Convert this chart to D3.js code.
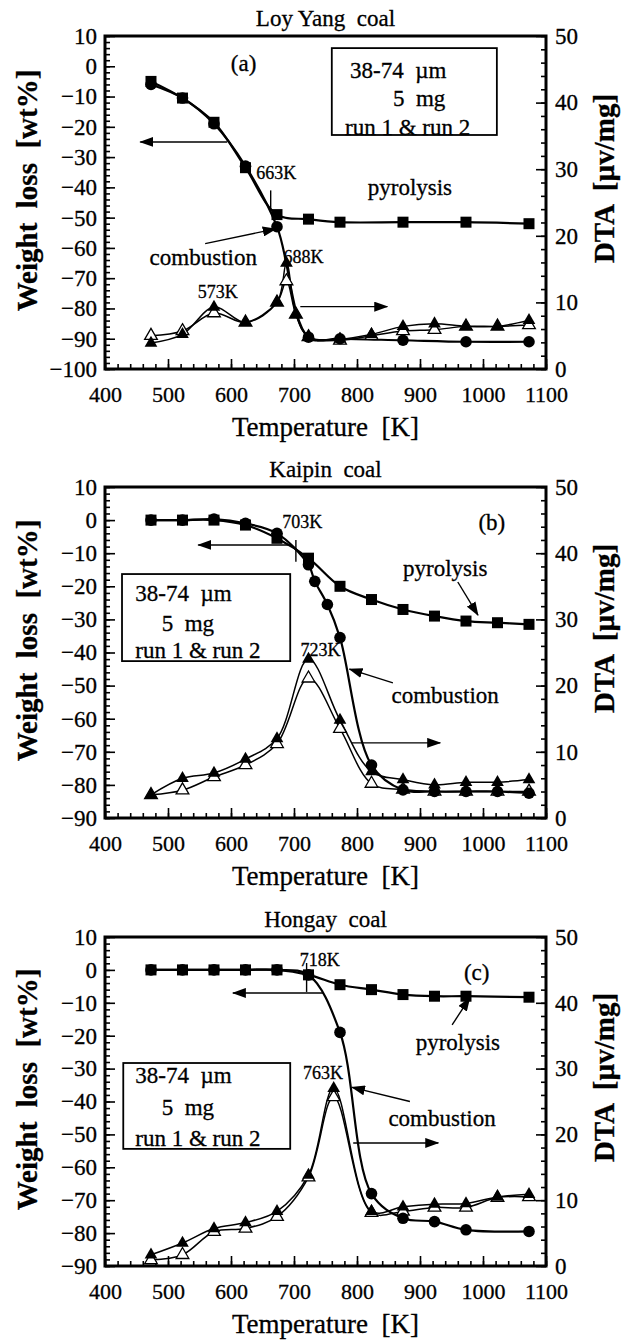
<!DOCTYPE html>
<html>
<head>
<meta charset="utf-8">
<script src="https://cdn.jsdelivr.net/npm/d3@7"></script>
<style>
  body { margin: 0; background: #fff; }
  text { font-family: "Liberation Serif", "Times New Roman", serif; fill: #000; white-space: pre; stroke: #000; stroke-width: 0.3px; }
</style>
</head>
<body>
<div id="chart"></div>
<script>
// ---- data ----
const panelTitles = ["Loy Yang  coal", "Kaipin  coal", "Hongay  coal"];
const wlDomains = [[-100, 10], [-90, 10], [-90, 10]];
const dtaDomain = [0, 50];
const xTickVals = [400, 500, 600, 700, 800, 900, 1000, 1100];

// (a) Loy Yang
const aPyroT = [473, 523, 573, 623, 673, 723, 773, 873, 973, 1073];
const aPyroW = [-5, -10.5, -18.5, -33.5, -49, -50.5, -51.5, -51.5, -51.5, -52];
const aCombT = [473, 523, 573, 623, 673, 723, 773, 873, 973, 1073];
const aCombW = [-6, -10.5, -19, -33, -53, -89.5, -90, -90.5, -91, -91];
const aDtaT = [473, 523, 573, 623, 673, 688, 703, 723, 773, 823, 873, 923, 973, 1023, 1073];
const aDta1 = [3.9, 5.2, 9.3, 7.0, 10.0, 15.9, 8.2, 4.8, 4.5, 5.2, 6.4, 6.8, 6.4, 6.4, 7.3];
const aDta2 = [5.0, 5.7, 8.4, 7.0, 10.0, 13.2, 8.2, 4.8, 4.3, 5.0, 5.7, 5.9, 6.4, 6.4, 6.6];

// (b) Kaipin
const bPyroT = [473, 523, 573, 623, 673, 723, 773, 823, 873, 923, 973, 1023, 1073];
const bPyroW = [0, 0, 0, -1.5, -5.5, -11.5, -20, -24, -27, -29, -30.5, -31, -31.5];
const bCombT = [473, 523, 573, 623, 673, 723, 733, 753, 773, 823, 873, 923, 973, 1023, 1073];
const bCombW = [0, 0, 0.3, -1, -4, -13.5, -18.5, -25.5, -35.5, -74, -81.5, -82, -82, -82, -82.5];
const bDtaT = [473, 523, 573, 623, 673, 723, 773, 823, 873, 923, 973, 1023, 1073];
const bDta1 = [3.5, 6.0, 6.8, 8.9, 12.0, 24.0, 14.8, 7.0, 5.8, 5.0, 5.4, 5.4, 5.8];
const bDta2 = [3.5, 4.2, 6.2, 8.0, 11.2, 21.1, 13.5, 5.2, 4.3, 4.0, 4.0, 4.0, 4.0];

// (c) Hongay
const cPyroT = [473, 523, 573, 623, 673, 723, 773, 823, 873, 923, 973, 1073];
const cPyroW = [0, 0, 0, 0, 0, -1.5, -4.5, -6, -7.5, -8, -8, -8.3];
const cCombT = [473, 523, 573, 623, 673, 723, 773, 823, 873, 923, 973, 1073];
const cCombW = [0, 0, 0, 0, 0, -1.5, -19, -68, -75.5, -76.5, -79, -79.5];
const cDtaT = [473, 523, 573, 623, 673, 723, 763, 823, 873, 923, 973, 1023, 1073];
const cDta1 = [1.7, 3.5, 5.7, 6.6, 8.3, 13.8, 27.0, 8.3, 9.0, 9.4, 9.5, 10.5, 10.9];
const cDta2 = [0.9, 1.7, 5.2, 5.7, 7.5, 13.5, 25.7, 8.1, 8.3, 8.9, 8.9, 10.4, 10.5];

const series = [
  { pyro: [aPyroT, aPyroW], comb: [aCombT, aCombW], dta: [aDtaT, aDta1, aDta2] },
  { pyro: [bPyroT, bPyroW], comb: [bCombT, bCombW], dta: [bDtaT, bDta1, bDta2] },
  { pyro: [cPyroT, cPyroW], comb: [cCombT, cCombW], dta: [cDtaT, cDta1, cDta2] }
];

// annotations in data coords (temperature, weight loss)
const notes = [
  [
    { t: "(a)", T: 620, v: 1, s: 23, a: "middle" },
    { t: "663K", T: 640, v: -35, s: 18, a: "start" },
    { t: "pyrolysis", T: 884, v: -40, s: 23, a: "middle" },
    { t: "combustion", T: 556, v: -63, s: 23, a: "middle" },
    { t: "688K", T: 715, v: -63, s: 18, a: "middle" },
    { t: "573K", T: 579, v: -74.5, s: 18, a: "middle" }
  ],
  [
    { t: "(b)", T: 1014, v: -0.6, s: 23, a: "middle" },
    { t: "703K", T: 713, v: -0.6, s: 18, a: "middle" },
    { t: "pyrolysis", T: 940, v: -14.5, s: 23, a: "middle" },
    { t: "723K", T: 742, v: -39.2, s: 18, a: "middle" },
    { t: "combustion", T: 940, v: -52.8, s: 23, a: "middle" }
  ],
  [
    { t: "718K", T: 741, v: 3, s: 18, a: "middle" },
    { t: "(c)", T: 990, v: -0.6, s: 23, a: "middle" },
    { t: "pyrolysis", T: 960, v: -21.9, s: 23, a: "middle" },
    { t: "763K", T: 746, v: -31.3, s: 18, a: "middle" },
    { t: "combustion", T: 935, v: -45, s: 23, a: "middle" }
  ]
];
// arrows: [T1, v1, T2, v2], head at the second point
const arrows = [
  [[594, -25, 456, -25], [710, -79.4, 848, -79.4], [559, -58.6, 671, -53.7]],
  [[694, -7.5, 548, -7.5], [792, -67.3, 932, -67.3], [960, -18.7, 992, -28.7], [857, -49.2, 788, -45]],
  [[746, -7, 603, -7], [794, -52.6, 929, -52.6], [951, -16.7, 979, -8.5], [884, -40, 792, -35.7]]
];
// short vertical marks at ignition temperatures
const igMarks = [[663, -41, -48], [703, -6, -12.6], [720, 2.1, -6.7]];
// sample info boxes [T1, v1, T2, v2]
const boxes = [[760, 6, 1022, -22.7], [427, -16.3, 694, -42.6], [429, -28.3, 694, -54.4]];
const boxText = [
  [[789, -1.2, "38-74  µm"], [857, -10.5, "5  mg"], [781, -20, "run 1 & run 2"]],
  [[448, -22, "38-74  µm"], [490, -31, "5  mg"], [448, -39.2, "run 1 & run 2"]],
  [[448, -32, "38-74  µm"], [490, -41.6, "5  mg"], [448, -51, "run 1 & run 2"]]
];

// ---- layout ----
const W = 625, H = 1341;
const L = 105, R = 546;
const panels = [{ top: 36, bottom: 369 }, { top: 487, bottom: 818 }, { top: 937, bottom: 1266 }];

const svg = d3.select("#chart").append("svg")
  .attr("width", W).attr("height", H);

svg.append("defs").append("marker")
  .attr("id", "head")
  .attr("markerUnits", "userSpaceOnUse")
  .attr("viewBox", "0 0 14 10")
  .attr("refX", 13).attr("refY", 5)
  .attr("markerWidth", 14).attr("markerHeight", 10)
  .attr("orient", "auto")
  .append("path").attr("d", "M0,0 L14,5 L0,10 Z").attr("fill", "#000");

panels.forEach((p, i) => drawPanel(i, p));

function drawPanel(i, p) {
  const g = svg.append("g");
  const x = d3.scaleLinear().domain([400, 1100]).range([L, R]);
  const y = d3.scaleLinear().domain(wlDomains[i]).range([p.bottom, p.top]);
  const y2 = d3.scaleLinear().domain(dtaDomain).range([p.bottom, p.top]);
  const [lo, hi] = wlDomains[i];

  // minor ticks
  g.append("g").attr("transform", `translate(${L},0)`)
    .call(d3.axisLeft(y).tickValues(d3.range(lo, hi + 0.1, 2)).tickSize(-5).tickFormat(""));
  g.append("g").attr("transform", `translate(${R},0)`)
    .call(d3.axisRight(y2).tickValues(d3.range(0, 50.1, 2)).tickSize(-5).tickFormat(""));
  g.append("g").attr("transform", `translate(0,${p.bottom})`)
    .call(d3.axisBottom(x).tickValues(d3.range(400, 1100.1, 20)).tickSize(-5).tickFormat(""));

  // major ticks with labels
  g.append("g").attr("transform", `translate(${L},0)`)
    .call(d3.axisLeft(y).tickValues(d3.range(lo, hi + 0.1, 10)).tickSize(-10).tickPadding(8).tickFormat(d3.format("d")));
  g.append("g").attr("transform", `translate(${R},0)`)
    .call(d3.axisRight(y2).tickValues(d3.range(0, 50.1, 10)).tickSize(-10).tickPadding(9).tickFormat(d3.format("d")));
  const xb = g.append("g").attr("transform", `translate(0,${p.bottom})`)
    .call(d3.axisBottom(x).tickValues(xTickVals).tickSize(-10).tickPadding(17).tickFormat(d3.format("d")));

  g.selectAll(".domain").remove();
  g.selectAll(".tick line").attr("stroke", "#000").attr("stroke-width", 1.6);
  g.selectAll(".tick text").attr("font-size", 23).attr("fill", "#000");
  xb.selectAll(".tick text").attr("font-size", 22);

  // frame
  g.append("rect").attr("x", L).attr("y", p.top)
    .attr("width", R - L).attr("height", p.bottom - p.top)
    .attr("fill", "none").attr("stroke", "#000").attr("stroke-width", 3);

  // titles
  g.append("text").attr("x", (L + R) / 2).attr("y", p.top - 18).attr("dy", "0.35em")
    .attr("text-anchor", "middle").attr("font-size", 23).text(panelTitles[i]);
  g.append("text").attr("x", (L + R) / 2).attr("y", p.bottom + 58).attr("dy", "0.35em")
    .attr("text-anchor", "middle").attr("font-size", 27).text("Temperature  [K]");
  const cy = (p.top + p.bottom) / 2;
  g.append("text").attr("transform", `translate(27,${cy - 12}) rotate(-90)`).attr("dy", "0.35em")
    .attr("text-anchor", "middle").attr("font-size", 29).attr("font-weight", "bold").text("Weight  loss  [wt%]");
  g.append("text").attr("transform", `translate(604,${cy - 24}) rotate(-90)`).attr("dy", "0.35em")
    .attr("text-anchor", "middle").attr("font-size", 29).attr("font-weight", "bold").text("DTA  [µv/mg]");

  // lines
  const s = series[i];
  const curve = d3.curveCatmullRom.alpha(0.5);
  const wl = d3.line().x(d => x(d[0])).y(d => y(d[1])).curve(curve);
  const dl = d3.line().x(d => x(d[0])).y(d => y2(d[1])).curve(curve);
  const pyro = d3.zip(s.pyro[0], s.pyro[1]);
  const comb = d3.zip(s.comb[0], s.comb[1]);
  const dta1 = d3.zip(s.dta[0], s.dta[1]);
  const dta2 = d3.zip(s.dta[0], s.dta[2]);

  [dta2, dta1].forEach(d => g.append("path").attr("d", dl(d))
    .attr("fill", "none").attr("stroke", "#000").attr("stroke-width", 1.5));
  [comb, pyro].forEach(d => g.append("path").attr("d", wl(d))
    .attr("fill", "none").attr("stroke", "#000").attr("stroke-width", 2.2));

  const tri = d3.symbol().type(d3.symbolTriangle).size(70);
  g.selectAll(null).data(dta2).join("path")
    .attr("transform", d => `translate(${x(d[0])},${y2(d[1])})`)
    .attr("d", tri).attr("fill", "#fff").attr("stroke", "#000").attr("stroke-width", 1.3);
  g.selectAll(null).data(dta1).join("path")
    .attr("transform", d => `translate(${x(d[0])},${y2(d[1])})`)
    .attr("d", tri).attr("fill", "#000");
  g.selectAll(null).data(comb).join("circle")
    .attr("cx", d => x(d[0])).attr("cy", d => y(d[1])).attr("r", 5.8).attr("fill", "#000");
  g.selectAll(null).data(pyro).join("rect")
    .attr("x", d => x(d[0]) - 5.5).attr("y", d => y(d[1]) - 5.5)
    .attr("width", 11).attr("height", 11).attr("fill", "#000");

  // ignition mark
  const m = igMarks[i];
  g.append("line").attr("x1", x(m[0])).attr("x2", x(m[0])).attr("y1", y(m[1])).attr("y2", y(m[2]))
    .attr("stroke", "#000").attr("stroke-width", 1.4);

  // arrows
  arrows[i].forEach(a => g.append("line")
    .attr("x1", x(a[0])).attr("y1", y(a[1])).attr("x2", x(a[2])).attr("y2", y(a[3]))
    .attr("stroke", "#000").attr("stroke-width", 1.4).attr("marker-end", "url(#head)"));

  // info box
  const b = boxes[i];
  g.append("rect").attr("x", x(b[0])).attr("y", y(b[1]))
    .attr("width", x(b[2]) - x(b[0])).attr("height", y(b[3]) - y(b[1]))
    .attr("fill", "#fff").attr("stroke", "#000").attr("stroke-width", 1.8);
  boxText[i].forEach(t => g.append("text").attr("x", x(t[0])).attr("y", y(t[1])).attr("dy", "0.35em")
    .attr("font-size", 23).text(t[2]));

  // labels
  notes[i].forEach(n => g.append("text").attr("x", x(n.T)).attr("y", y(n.v)).attr("dy", "0.35em")
    .attr("text-anchor", n.a).attr("font-size", n.s).text(n.t));
}
</script>
</body>
</html>
